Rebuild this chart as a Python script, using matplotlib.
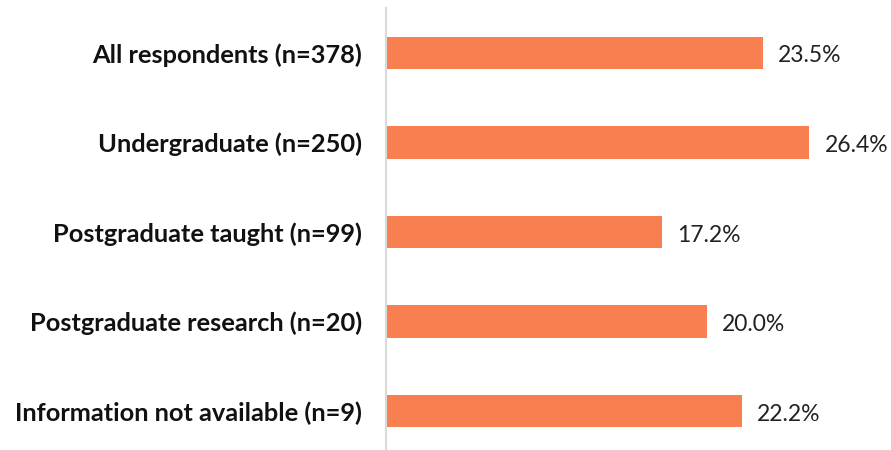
import matplotlib
matplotlib.use("Agg")
import matplotlib.pyplot as plt

categories = ["All respondents (n=378)", "Undergraduate (n=250)", "Postgraduate taught (n=99)",
              "Postgraduate research (n=20)", "Information not available (n=9)"]
values = [23.5, 26.4, 17.2, 20.0, 22.2]
value_labels = ["23.5%", "26.4%", "17.2%", "20.0%", "22.2%"]

fig = plt.figure(figsize=(8.91, 4.5), dpi=100)
x0 = 386 / 891
top_px, bot_px = 8, 456
ax = fig.add_axes([x0, 1 - bot_px / 450, 1 - x0, (bot_px - top_px) / 450])

ypos = list(range(len(categories)))
ax.barh(ypos, values, height=0.36, color="#F88050", zorder=2)
ax.set_xlim(0, (891 - 386) / 16.04)
ax.set_ylim(len(categories) - 0.5, -0.5)

for y, v, lab in zip(ypos, values, value_labels):
    ax.annotate(lab, (v, y), xytext=(15, -3), textcoords="offset pixels",
                va="center", ha="left", fontsize=16.5, family="Lato", color="#222222")

ax.set_yticks(ypos)
ax.set_yticklabels(categories, fontsize=18.3, fontweight="bold", family="Lato", color="#111111")
ax.tick_params(axis="y", length=0, pad=17)
ax.set_xticks([])
for s in ["top", "right", "bottom"]:
    ax.spines[s].set_visible(False)
ax.spines["left"].set_color("#d9d9d9")
ax.spines["left"].set_linewidth(1.5)
ax.spines["left"].set_bounds(len(categories) - 0.5 - 0.01, -0.5)

fig.savefig("out.png", dpi=100)
